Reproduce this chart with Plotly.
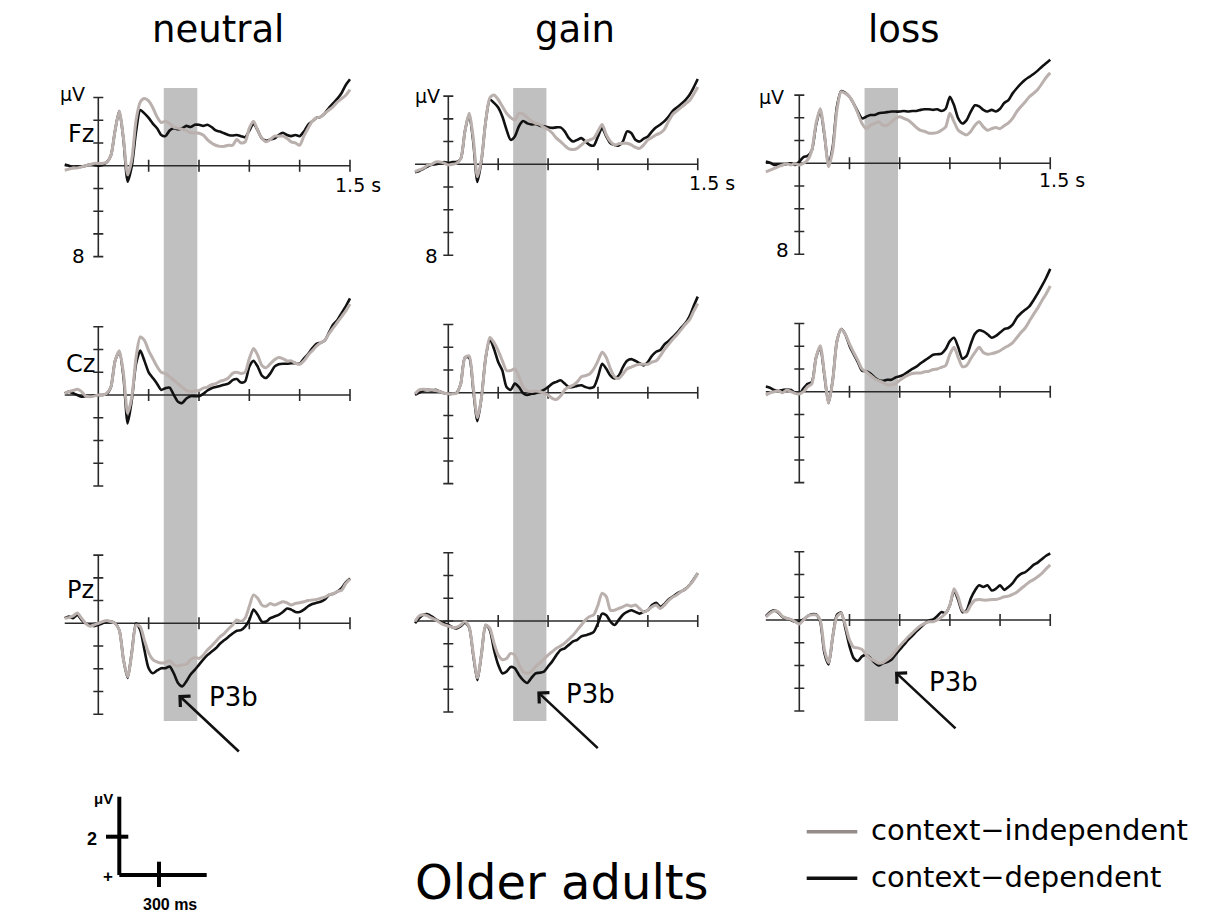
import plotly.graph_objects as go

W, H = 1206, 916
FONT = "DejaVu Sans"

# ---------------- data ----------------
TIME_S = [-0.2, -0.175, -0.15, -0.125, -0.1, -0.075, -0.05, -0.025,
          0.0, 0.025, 0.05, 0.075, 0.1, 0.125, 0.15, 0.175,
          0.2, 0.225, 0.25, 0.275, 0.3, 0.325, 0.35, 0.375,
          0.4, 0.425, 0.45, 0.475, 0.5, 0.525, 0.55, 0.575,
          0.6, 0.625, 0.65, 0.675, 0.7, 0.725, 0.75, 0.775,
          0.8, 0.825, 0.85, 0.875, 0.9, 0.925, 0.95, 0.975,
          1.0, 1.025, 1.05, 1.075, 1.1, 1.125, 1.15, 1.175,
          1.2, 1.225, 1.25, 1.275, 1.3, 1.325, 1.35, 1.375,
          1.4, 1.425, 1.45, 1.475, 1.5]

CONDITIONS = ["neutral", "gain", "loss"]
ELECTRODES = ["Fz", "Cz", "Pz"]
SERIES_NAMES = ["context\u2212independent", "context\u2212dependent"]

# values in microvolts (positive plotted downward)
NEUTRAL_FZ_IND = [0.4, 0.3, 0.2, 0.2, 0.1, 0.0, -0.1, -0.2,
                  -0.2, -0.2, -0.3, -0.9, -3.1, -4.8, -2.4, 0.8,
                  -0.6, -4.0, -5.6, -5.9, -5.7, -5.1, -4.3, -3.8,
                  -3.9, -3.7, -3.4, -3.3, -3.2, -3.1, -2.9, -2.9,
                  -2.85, -2.7, -2.3, -2.0, -1.8, -1.7, -1.7, -1.8,
                  -1.8, -2.3, -2.0, -2.1, -3.3, -3.9, -3.1, -2.4,
                  -2.1, -2.3, -2.6, -2.6, -2.6, -2.4, -2.1, -2.0,
                  -1.8, -2.6, -3.3, -3.9, -4.2, -4.3, -4.6, -4.9,
                  -5.2, -5.6, -5.9, -6.2, -6.7]
NEUTRAL_FZ_DEP = [-0.1, 0.0, 0.2, 0.1, 0.1, 0.0, -0.1, -0.1,
                  0.0, -0.1, -0.3, -0.9, -3.1, -4.8, -2.3, 1.4,
                  0.0, -3.0, -4.9, -4.6, -4.2, -3.7, -3.3, -2.7,
                  -2.6, -3.1, -3.3, -3.2, -3.3, -3.5, -3.4, -3.6,
                  -3.6, -3.5, -3.6, -3.4, -3.1, -3.0, -2.85, -2.7,
                  -2.65, -2.7, -2.6, -2.5, -3.1, -3.7, -3.1, -2.4,
                  -2.2, -2.3, -2.4, -2.7, -2.9, -2.7, -2.6, -2.7,
                  -2.6, -3.0, -3.6, -3.9, -4.2, -4.3, -4.6, -5.1,
                  -5.5, -5.9, -6.4, -7.1, -7.6]
NEUTRAL_CZ_IND = [-0.15, -0.3, -0.4, -0.5, -0.3, 0.1, 0.15, 0.1,
                  0.0, 0.0, -0.15, -0.7, -3.0, -3.9, -1.9, 1.6,
                  0.15, -3.3, -5.1, -4.8, -3.9, -3.2, -2.5, -2.0,
                  -1.9, -1.6, -1.3, -1.0, -0.7, -0.4, -0.3, -0.35,
                  -0.4, -0.6, -0.7, -0.9, -1.0, -1.2, -1.3, -1.5,
                  -1.9, -2.0, -1.9, -2.0, -3.2, -4.1, -3.5, -2.6,
                  -2.4, -2.75, -3.1, -3.3, -3.2, -3.0, -3.0, -2.8,
                  -2.7, -3.0, -3.5, -3.9, -4.3, -4.6, -4.8, -5.4,
                  -5.9, -6.4, -6.9, -7.4, -8.0]
NEUTRAL_CZ_DEP = [-0.15, -0.3, -0.15, 0.0, 0.15, 0.1, 0.1, 0.05,
                  0.0, 0.0, -0.1, -0.7, -3.0, -3.8, -1.6, 2.5,
                  0.4, -2.75, -3.9, -3.0, -2.0, -1.5, -1.0, -0.45,
                  -0.6, -0.65, 0.0, 0.6, 0.7, 0.3, 0.1, 0.1,
                  0.1, -0.1, -0.4, -0.6, -0.7, -0.8, -0.9, -1.0,
                  -1.3, -1.4, -1.1, -1.2, -2.5, -3.0, -2.5, -1.7,
                  -1.5, -1.9, -2.5, -2.7, -2.75, -2.75, -2.8, -2.8,
                  -2.75, -3.2, -3.6, -4.1, -4.5, -4.6, -4.8, -5.5,
                  -6.2, -6.6, -7.2, -7.8, -8.5]
NEUTRAL_PZ_IND = [-0.45, -0.5, -0.65, -0.9, -0.45, 0.0, 0.25, 0.15,
                  0.0, -0.15, -0.25, -0.15, 0.0, 0.6, 3.2, 4.7,
                  2.6, 0.15, 0.3, 1.5, 2.6, 3.2, 3.4, 3.5,
                  3.45, 3.3, 3.65, 3.75, 3.65, 3.6, 3.2, 3.0,
                  3.1, 2.8, 2.35, 2.0, 1.6, 1.2, 0.9, 0.5,
                  0.15, -0.3, -0.15, -0.45, -1.5, -2.5, -2.2, -1.6,
                  -1.5, -1.75, -1.6, -1.75, -1.9, -1.8, -1.6, -1.75,
                  -1.8, -1.9, -2.0, -2.05, -2.1, -2.2, -2.3, -2.5,
                  -2.6, -2.8, -2.9, -3.5, -3.9]
NEUTRAL_PZ_DEP = [-0.45, -0.6, -0.45, -0.75, -0.3, 0.0, 0.15, 0.25,
                  0.15, 0.0, -0.15, -0.15, 0.0, 0.6, 3.2, 4.8,
                  2.5, 0.0, 0.6, 2.35, 3.95, 4.4, 4.15, 3.95,
                  3.95, 3.8, 4.4, 5.25, 5.55, 5.1, 4.5, 4.1,
                  3.65, 3.2, 2.8, 2.5, 2.2, 1.8, 1.5, 1.2,
                  0.9, 0.65, 0.6, 0.3, -0.3, -1.2, -0.75, -0.15,
                  -0.15, -0.45, -0.6, -0.75, -1.0, -1.3, -1.2, -1.0,
                  -1.0, -1.2, -1.5, -1.7, -1.8, -1.9, -2.1, -2.5,
                  -2.6, -2.8, -3.1, -3.6, -3.95]

GAIN_FZ_IND = [0.65, 0.5, 0.35, 0.1, 0.0, -0.2, -0.2, -0.1,
               0.05, 0.0, -0.1, -0.5, -2.9, -4.5, -2.3, 1.1,
               -0.5, -3.8, -5.85, -6.1, -5.7, -5.1, -4.5, -4.1,
               -3.9, -4.5, -4.4, -4.1, -3.8, -3.6, -3.5, -3.25,
               -3.05, -2.75, -2.3, -2.0, -1.65, -1.35, -1.3, -1.4,
               -1.7, -2.0, -2.15, -2.3, -2.9, -3.5, -2.6, -2.0,
               -1.7, -1.8, -1.85, -1.85, -1.7, -1.5, -1.4, -1.7,
               -2.15, -2.35, -2.6, -2.75, -3.1, -3.8, -4.4, -4.7,
               -5.0, -5.3, -5.6, -6.15, -6.8]
GAIN_FZ_DEP = [0.7, 0.6, 0.4, 0.2, 0.05, 0.0, -0.1, -0.2,
               -0.1, -0.2, -0.2, -0.5, -2.9, -4.4, -2.0, 1.55,
               -0.4, -3.8, -5.7, -5.4, -5.0, -4.2, -3.05, -2.15,
               -2.45, -3.35, -3.8, -3.6, -3.5, -3.55, -3.4, -3.35,
               -3.25, -3.2, -3.25, -3.25, -2.9, -2.3, -2.0, -2.15,
               -2.3, -2.0, -1.7, -1.65, -2.45, -3.2, -2.45, -1.85,
               -1.7, -1.65, -2.0, -2.9, -2.75, -2.15, -2.0, -2.25,
               -2.45, -2.9, -3.25, -3.5, -3.8, -4.2, -4.7, -5.0,
               -5.3, -5.65, -6.1, -6.75, -7.5]
GAIN_CZ_IND = [0.1, -0.25, -0.3, -0.25, -0.25, -0.2, -0.1, 0.05,
               0.1, 0.1, 0.05, -0.8, -3.1, -3.25, -0.5, 2.2,
               0.35, -3.1, -4.85, -4.4, -3.7, -2.8, -1.95, -1.95,
               -2.1, -1.4, -0.5, -0.15, -0.1, -0.15, -0.1, 0.05,
               0.2, 0.5, 0.6, 0.3, -0.25, -0.5, -0.65, -0.95,
               -1.4, -1.5, -1.65, -2.1, -2.8, -3.55, -3.1, -2.1,
               -1.4, -1.25, -1.65, -2.1, -2.25, -2.4, -2.5, -2.5,
               -2.5, -2.7, -2.8, -3.25, -3.8, -4.25, -4.7, -5.1,
               -5.55, -6.0, -6.4, -7.15, -7.85]
GAIN_CZ_DEP = [0.2, 0.0, -0.2, -0.25, -0.2, -0.25, -0.1, 0.05,
               0.1, 0.1, 0.0, -0.8, -3.1, -3.1, -0.25, 2.5,
               0.35, -3.1, -4.7, -3.85, -2.7, -1.95, -0.5, -0.25,
               -0.8, -0.5, 0.05, 0.2, 0.1, 0.05, -0.1, -0.25,
               -0.5, -0.8, -0.95, -1.1, -0.8, -0.5, -0.5, -0.6,
               -0.65, -0.5, -0.4, -0.5, -1.4, -2.55, -2.1, -1.5,
               -1.25, -1.5, -2.25, -2.8, -2.95, -2.8, -2.6, -2.4,
               -2.7, -3.25, -3.6, -3.75, -4.25, -4.55, -4.9, -5.25,
               -5.7, -6.1, -6.7, -7.6, -8.45]
GAIN_PZ_IND = [0.05, -0.45, -0.55, -0.45, -0.25, -0.1, 0.15, 0.35,
               0.45, 0.55, 0.55, 0.35, 0.05, 0.5, 2.85, 5.0,
               2.85, 0.35, 0.65, 1.95, 3.0, 3.4, 3.3, 2.85,
               3.0, 3.85, 4.45, 4.6, 4.45, 4.0, 3.7, 3.35,
               3.0, 2.7, 2.4, 2.2, 1.95, 1.6, 1.25, 0.8,
               0.35, -0.1, -0.4, -0.55, -1.4, -2.45, -2.15, -0.95,
               -0.95, -1.1, -1.25, -1.4, -1.3, -1.4, -1.1, -0.8,
               -0.95, -1.25, -1.4, -1.1, -1.4, -1.8, -2.1, -2.3,
               -2.6, -2.8, -3.15, -3.6, -4.2]
GAIN_PZ_DEP = [0.2, -0.25, -0.55, -0.6, -0.4, -0.15, 0.05, 0.2,
               0.35, 0.55, 0.65, 0.45, 0.15, 0.55, 3.0, 5.2,
               2.85, 0.35, 0.8, 2.55, 3.85, 4.6, 4.45, 4.05,
               4.15, 4.75, 5.2, 5.45, 5.0, 4.6, 4.55, 4.45,
               4.0, 3.55, 3.0, 2.55, 2.4, 2.1, 1.8, 1.65,
               1.35, 1.25, 1.15, 0.95, 0.2, -0.65, -0.5, 0.05,
               0.35, -0.1, -0.55, -0.8, -0.95, -0.8, -0.65, -0.8,
               -0.95, -1.4, -1.6, -1.25, -1.5, -1.9, -2.15, -2.4,
               -2.6, -2.8, -3.15, -3.65, -4.2]

LOSS_FZ_IND = [0.75, 0.6, 0.45, 0.3, 0.15, 0.05, 0.15, 0.05,
               0.15, 0.0, -0.3, -1.15, -3.5, -4.8, -2.65, 0.3,
               -1.15, -4.7, -6.3, -6.15, -5.85, -5.25, -4.4, -3.5,
               -3.05, -3.35, -3.5, -3.65, -3.35, -3.35, -3.65, -3.95,
               -4.1, -3.95, -3.8, -3.5, -3.15, -2.9, -2.8, -2.65,
               -2.65, -2.7, -2.9, -3.2, -4.4, -3.65, -2.9, -2.65,
               -2.5, -2.8, -3.35, -3.65, -3.2, -2.9, -3.05, -3.15,
               -3.05, -3.3, -3.55, -3.95, -4.55, -5.0, -5.4, -5.85,
               -6.15, -6.5, -7.0, -7.55, -7.95]
LOSS_FZ_DEP = [-0.15, -0.05, 0.15, 0.1, 0.15, 0.05, 0.0, 0.15,
               -0.15, -0.55, -0.65, -1.15, -3.35, -4.7, -2.5, 0.15,
               -1.45, -5.0, -6.35, -6.2, -5.85, -5.25, -4.55, -3.95,
               -4.1, -4.25, -4.25, -4.4, -4.45, -4.5, -4.55, -4.55,
               -4.55, -4.6, -4.55, -4.6, -4.6, -4.7, -4.75, -4.75,
               -4.7, -4.75, -4.6, -4.8, -5.85, -5.1, -3.95, -3.5,
               -3.8, -4.55, -5.1, -5.0, -4.7, -4.55, -4.7, -4.55,
               -4.8, -5.3, -5.55, -6.15, -6.6, -7.0, -7.35, -7.6,
               -7.85, -8.15, -8.5, -8.8, -9.1]
LOSS_CZ_IND = [0.3, 0.1, 0.0, -0.1, 0.1, -0.15, 0.0, 0.15,
               0.2, 0.0, -0.45, -0.7, -3.0, -4.05, -1.6, 1.0,
               -1.0, -4.45, -5.5, -5.05, -4.2, -3.45, -2.75, -2.0,
               -1.75, -1.45, -1.15, -0.95, -0.8, -0.6, -0.6, -0.7,
               -1.0, -1.25, -1.45, -1.6, -1.65, -1.65, -1.75, -1.8,
               -1.95, -2.0, -2.15, -2.3, -3.3, -3.9, -3.0, -2.2,
               -2.3, -2.9, -3.45, -3.9, -3.45, -3.3, -3.35, -3.45,
               -3.6, -3.85, -4.05, -4.3, -4.75, -5.2, -5.6, -6.2,
               -6.8, -7.35, -8.0, -8.6, -9.3]
LOSS_CZ_DEP = [-0.45, -0.35, -0.15, -0.1, -0.15, -0.2, -0.15, 0.1,
               0.2, -0.3, -0.7, -0.85, -3.0, -3.9, -1.45, 1.0,
               -1.05, -4.45, -5.5, -5.05, -4.05, -3.3, -2.6, -1.85,
               -1.8, -1.6, -1.25, -1.0, -0.95, -1.05, -1.05, -1.25,
               -1.35, -1.5, -1.75, -2.0, -2.2, -2.5, -2.75, -3.0,
               -3.25, -3.3, -3.35, -3.75, -4.45, -4.75, -3.9, -2.9,
               -3.15, -4.2, -5.1, -5.4, -5.3, -5.05, -4.75, -4.9,
               -5.2, -5.5, -5.6, -5.9, -6.5, -6.9, -7.2, -7.5,
               -8.05, -8.65, -9.3, -10.0, -10.8]
LOSS_PZ_IND = [-0.25, -0.6, -0.8, -0.7, -0.3, -0.15, -0.05, 0.15,
               0.35, 0.0, -0.35, -0.45, -0.45, 0.0, 2.6, 3.75,
               1.45, -0.3, -0.6, 0.45, 1.75, 2.4, 2.45, 2.6,
               3.05, 3.4, 3.6, 3.8, 3.75, 3.5, 3.2, 2.75,
               2.3, 1.9, 1.5, 1.15, 0.8, 0.5, 0.3, 0.15,
               0.15, 0.0, -0.25, -0.6, -1.3, -2.75, -2.0, -0.85,
               -0.7, -1.3, -1.75, -1.8, -1.75, -1.75, -1.8, -1.8,
               -1.9, -2.05, -2.1, -2.25, -2.45, -2.75, -3.05, -3.35,
               -3.55, -3.8, -4.1, -4.5, -4.85]
LOSS_PZ_DEP = [-0.35, -0.7, -0.85, -0.65, -0.25, -0.15, 0.0, 0.15,
               0.15, -0.05, -0.35, -0.5, -0.5, 0.15, 2.9, 3.9,
               1.45, -0.45, -0.65, 0.7, 2.3, 3.35, 3.6, 3.2,
               3.05, 3.35, 3.75, 4.0, 3.8, 3.7, 3.5, 3.05,
               2.6, 2.2, 1.75, 1.4, 1.0, 0.65, 0.3, 0.05,
               -0.05, -0.35, -0.7, -0.6, -1.3, -2.6, -1.75, -0.7,
               -0.85, -1.9, -2.6, -3.05, -2.9, -3.05, -2.6, -2.75,
               -3.05, -2.65, -2.9, -3.25, -3.75, -4.05, -4.2, -4.5,
               -4.85, -5.05, -5.35, -5.65, -5.85]

Y_TICKS = [-6, -4, -2, 0, 2, 4, 6, 8]
X_TICKS = [0.3, 0.6, 0.9, 1.2, 1.5]
P3B_WINDOW = [0.39, 0.59]
ARROW_TIP_T = [0.477, 0.535, 0.572]
ARROW_TIP_V = [6.3, 6.2, 4.55]

PANELS = {
    ("Fz", "neutral"): (NEUTRAL_FZ_IND, NEUTRAL_FZ_DEP),
    ("Cz", "neutral"): (NEUTRAL_CZ_IND, NEUTRAL_CZ_DEP),
    ("Pz", "neutral"): (NEUTRAL_PZ_IND, NEUTRAL_PZ_DEP),
    ("Fz", "gain"): (GAIN_FZ_IND, GAIN_FZ_DEP),
    ("Cz", "gain"): (GAIN_CZ_IND, GAIN_CZ_DEP),
    ("Pz", "gain"): (GAIN_PZ_IND, GAIN_PZ_DEP),
    ("Fz", "loss"): (LOSS_FZ_IND, LOSS_FZ_DEP),
    ("Cz", "loss"): (LOSS_CZ_IND, LOSS_CZ_DEP),
    ("Pz", "loss"): (LOSS_PZ_IND, LOSS_PZ_DEP),
}

# ---------------- geometry ----------------
COL_ZERO_PX = [98.3, 448.3, 799.3]
COL_PPS = [167.8, 166.3, 167.3]
ROW_ZERO_PX = [[165.7, 164.3, 163.3], [395.0, 392.7, 391.7], [623.3, 621.0, 620.0]]
PPU = 11.37
XR = [-0.22, 1.56]
YR = [9.5, -11.5]

C_IND = "#bab0ad"
C_DEP = "#111111"
C_AXIS = "#2a2a2a"


def fx(p):
    return p / W


def fy(p):
    return 1 - p / H


fig = go.Figure()
layout = dict(width=W, height=H, margin=dict(l=0, r=0, t=0, b=0),
              paper_bgcolor="white", plot_bgcolor="rgba(0,0,0,0)",
              showlegend=False, shapes=[], annotations=[])

for r, el in enumerate(ELECTRODES):
    for c, cond in enumerate(CONDITIONS):
        n = r * 3 + c + 1
        xs = "" if n == 1 else str(n)
        x0 = COL_ZERO_PX[c] + XR[0] * COL_PPS[c]
        x1 = COL_ZERO_PX[c] + XR[1] * COL_PPS[c]
        zb = ROW_ZERO_PX[r][c] + YR[0] * PPU
        zt = ROW_ZERO_PX[r][c] + YR[1] * PPU
        layout["xaxis" + xs] = dict(domain=[fx(x0), fx(x1)], range=XR, visible=False,
                                    anchor="y" + xs, fixedrange=True)
        layout["yaxis" + xs] = dict(domain=[fy(zb), fy(zt)], range=YR, visible=False,
                                    anchor="x" + xs, fixedrange=True)
        # axis lines drawn in data space
        tw = 5.0 / COL_PPS[c]
        th = 6.0 / PPU
        ax_x, ax_y = [0, 0, None], [Y_TICKS[0], Y_TICKS[-1], None]
        for v in Y_TICKS:
            ax_x += [-tw, tw, None]
            ax_y += [v, v, None]
        ax_x += [TIME_S[0], X_TICKS[-1], None]
        ax_y += [0, 0, None]
        for t in X_TICKS:
            ax_x += [t, t, None]
            ax_y += [-th, th, None]
        fig.add_trace(go.Scatter(x=ax_x, y=ax_y, mode="lines", xaxis="x" + xs, yaxis="y" + xs,
                                 line=dict(color=C_AXIS, width=1.6), hoverinfo="skip"))
        ind, dep = PANELS[(el, cond)]
        fig.add_trace(go.Scatter(x=TIME_S, y=dep, mode="lines", name=SERIES_NAMES[1],
                                 xaxis="x" + xs, yaxis="y" + xs,
                                 line=dict(color=C_DEP, width=2.6, shape="spline", smoothing=0.7)))
        fig.add_trace(go.Scatter(x=TIME_S, y=ind, mode="lines", name=SERIES_NAMES[0],
                                 xaxis="x" + xs, yaxis="y" + xs,
                                 line=dict(color=C_IND, width=3.0, shape="spline", smoothing=0.7)))

# grey P3b window bands spanning the three rows
for c in range(3):
    xs = "" if c == 0 else str(c + 1)
    layout["shapes"].append(dict(type="rect", xref="x" + xs, yref="paper",
                                 x0=P3B_WINDOW[0], x1=P3B_WINDOW[1],
                                 y0=fy(721), y1=fy(88), fillcolor="#c0c0c0",
                                 line=dict(width=0), layer="below"))


def ann(text, x, y, size, xanchor="center", yanchor="middle", bold=False, family=FONT):
    layout["annotations"].append(dict(
        text=("<b>%s</b>" % text) if bold else text, x=fx(x), y=fy(y), xref="paper", yref="paper",
        showarrow=False, xanchor=xanchor, yanchor=yanchor,
        font=dict(family=family, size=size, color="black")))


# column titles
for cond, cx in zip(CONDITIONS, [218.4, 575, 903]):
    ann(cond, cx, 29, 37)
# row labels
for el, (rx, ry) in zip(ELECTRODES, [(81, 134), (80, 364), (80, 590)]):
    ann(el, rx, ry, 24)
# axis labels on top row
for (ux, uy) in [(72, 94), (427, 96), (771, 97)]:
    ann("\u03bcV", ux, uy, 19)
for (ex, ey) in [(79, 256), (431, 256), (782, 250)]:
    ann("8", ex, ey, 20)
for (sx, sy) in [(333, 185), (687, 183), (1037, 180)]:
    ann("1.5 s", sx, sy, 19, xanchor="left")

# P3b labels and arrows
for c, (lx, ly) in enumerate([(233.5, 697), (590, 694), (953, 682)]):
    ann("P3b", lx, ly, 26)
    n = 7 + c
    layout["annotations"].append(dict(
        text="", x=ARROW_TIP_T[c], y=ARROW_TIP_V[c], xref="x%d" % n, yref="y%d" % n,
        showarrow=True, ax=62, ay=58, arrowhead=4, arrowsize=1.1, arrowwidth=2.6,
        arrowcolor="#111111", standoff=0))

# bottom title
ann("Older adults", 561.5, 882, 48)

# legend (manual)
for (ly, col, name) in [(831.7, "#958b88", SERIES_NAMES[0]), (878.3, "#111111", SERIES_NAMES[1])]:
    layout["shapes"].append(dict(type="line", xref="paper", yref="paper",
                                 x0=fx(806.7), x1=fx(857.3), y0=fy(ly), y1=fy(ly),
                                 line=dict(color=col, width=3.5)))
    ann(name, 869, ly - 1.5, 29, xanchor="left")

# scale bar
for (a, b, c2, d) in [(119.3, 796.7, 119.3, 875), (119.3, 875, 206.7, 875),
                      (106, 836.7, 128.3, 836.7), (159, 861.7, 159, 887)]:
    layout["shapes"].append(dict(type="line", xref="paper", yref="paper",
                                 x0=fx(a), y0=fy(b), x1=fx(c2), y1=fy(d),
                                 line=dict(color="black", width=4)))
ann("\u03bcV", 103, 798, 15, bold=True, family="Liberation Sans")
ann("2", 92, 839, 18, bold=True, family="Liberation Sans")
ann("+", 107.5, 876, 17, bold=True, family="Liberation Sans")
ann("300 ms", 170, 904, 16, bold=True, family="Liberation Sans")

fig.update_layout(**layout)
fig.write_html("out.html")
